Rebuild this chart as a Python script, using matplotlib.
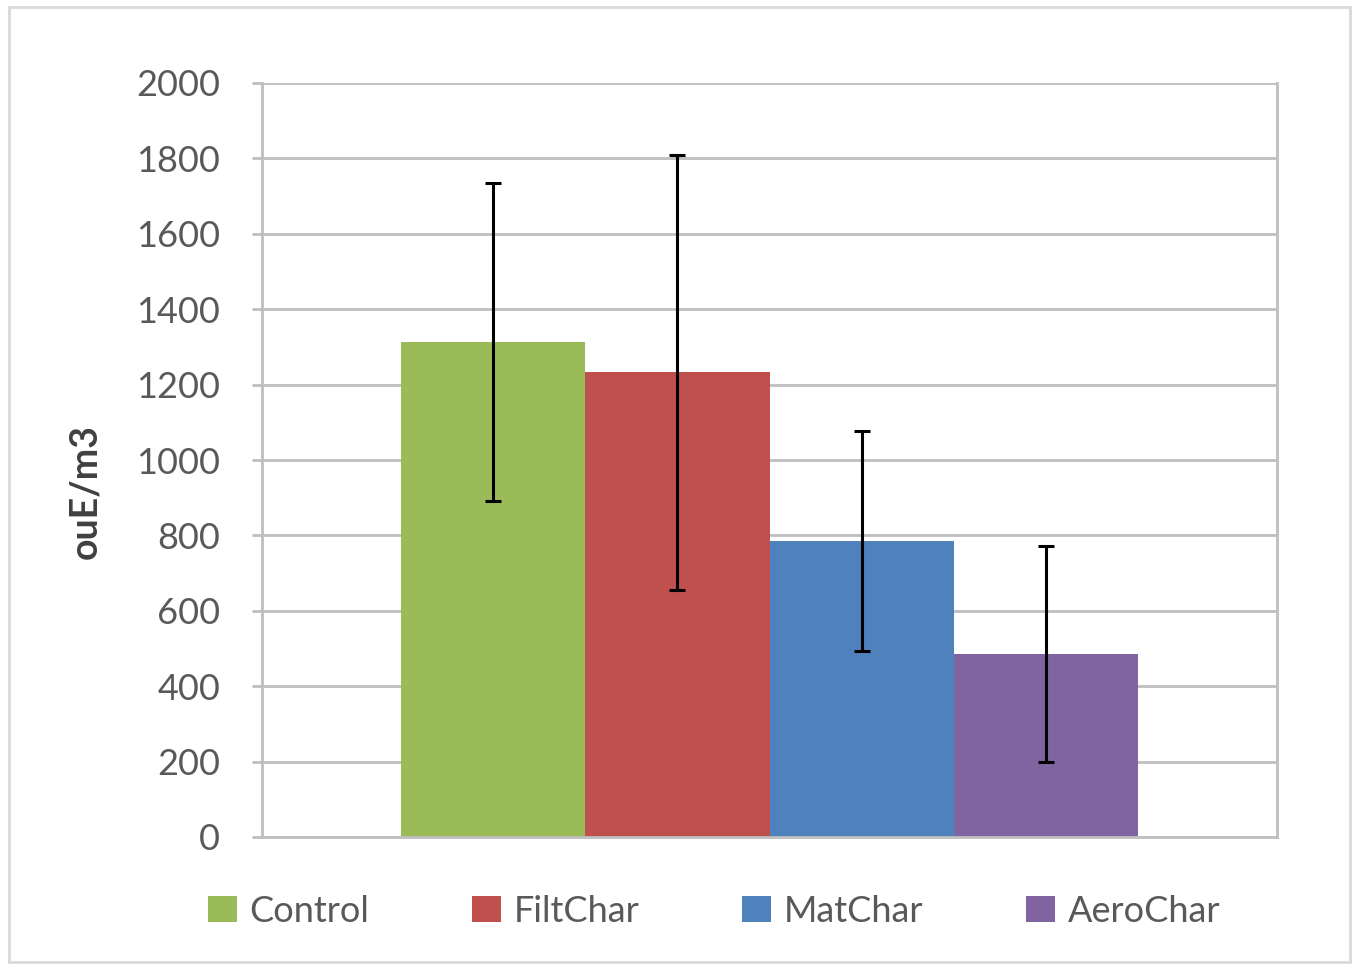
import matplotlib
matplotlib.use("Agg")
import matplotlib.pyplot as plt
from matplotlib.patches import Rectangle
import numpy as np

# odour concentration per treatment
treatments = ["Control", "FiltChar", "MatChar", "AeroChar"]
means = [1312, 1233, 785, 485]
errors = [422, 577, 292, 287]
colors = ["#9BBB59", "#C0504D", "#4F81BD", "#8064A2"]
yticks = [0, 200, 400, 600, 800, 1000, 1200, 1400, 1600, 1800, 2000]

plt.rcParams["font.family"] = ["Lato", "DejaVu Sans"]

W, H = 1359, 966
fig = plt.figure(figsize=(W / 100, H / 100), dpi=100)
ax = fig.add_axes([262 / W, 1 - 837 / H, (1277 - 262) / W, (837 - 83) / H])

width = 0.1813
for i, (name, m, e, c) in enumerate(zip(treatments, means, errors, colors)):
    x = (i - 1.5) * width
    ax.bar(x, m, width=width, color=c, label=name, zorder=2)
    ax.errorbar(x, m, yerr=e, fmt="none", ecolor="black", elinewidth=2.2,
                capsize=5.5, capthick=2.2, zorder=3)

ax.set_xlim(-0.5, 0.5)
ax.set_ylim(0, 2000)
ax.set_yticks(yticks)
ax.set_xticks([])
ax.yaxis.grid(True, color="#BFBFBF", linewidth=2, zorder=0)
ax.set_axisbelow(True)
for side in ["left", "right", "bottom"]:
    ax.spines[side].set_color("#BFBFBF")
    ax.spines[side].set_linewidth(2)
ax.spines["top"].set_visible(False)
ax.tick_params(axis="y", length=7, width=2, color="#BFBFBF",
               labelsize=26, labelcolor="#595959", pad=23)
ax.set_ylabel("ouE/m3", fontsize=27, fontweight="bold", color="#404040")
ax.yaxis.set_label_coords((102 - 262) / (1277 - 262), (837 - 492) / (837 - 83))

ax.legend(loc="center", bbox_to_anchor=(714 / W, 1 - 911 / H),
          bbox_transform=fig.transFigure, ncol=4, frameon=False,
          fontsize=26, labelcolor="#595959", handlelength=0.8, handleheight=0.7,
          handletextpad=0.35, columnspacing=2.85)

fig.patches.append(Rectangle((9 / W, 4 / H), (1350 - 9) / W, (959 - 4) / H,
                             transform=fig.transFigure, fill=False,
                             edgecolor="#D9D9D9", linewidth=2))

fig.savefig("out.png", dpi=100, facecolor="white")
